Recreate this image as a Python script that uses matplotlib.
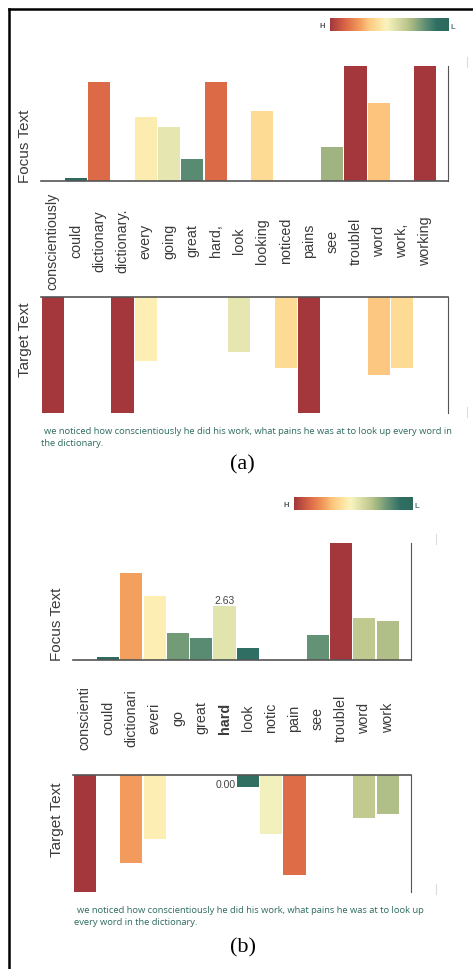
import numpy as np
import matplotlib.pyplot as plt
from matplotlib.colors import LinearSegmentedColormap
from matplotlib.lines import Line2D
from matplotlib.transforms import blended_transform_factory

W, H = 473, 970

# panel (a): raw tokens
words_a = ['conscientiously', 'could', 'dictionary', 'dictionary.', 'every', 'going',
           'great', 'hard,', 'look', 'looking', 'noticed', 'pains', 'see', 'troublel',
           'word', 'work,', 'working']
focus_a = [0, 0.023, 0.86, 0, 0.556, 0.47, 0.19, 0.86, 0, 0.61, 0, 0, 0.30, 1.0, 0.68, 0, 1.0]
target_a = [1.0, 0, 0, 1.0, 0.55, 0, 0, 0, 0.47, 0, 0.61, 1.0, 0, 0, 0.67, 0.61, 0]

# panel (b): stemmed tokens
words_b = ['conscienti', 'could', 'dictionari', 'everi', 'go', 'great', 'hard', 'look',
           'notic', 'pain', 'see', 'troublel', 'word', 'work']
focus_b = [0, 0.16, 4.25, 3.15, 1.32, 1.09, 2.63, 0.57, 0, 0, 1.20, 5.72, 2.06, 1.89]
target_b = [5.72, 0, 4.29, 3.15, 0, 0, 0, 0.60, 2.90, 4.90, 0, 0, 2.09, 1.89]

sentence_a = ["we noticed how conscientiously he did his work, what pains he was at to look up every word in",
              "the dictionary."]
sentence_b = ["we noticed how conscientiously he did his work, what pains he was at to look up",
              "every word in the dictionary."]

cmap = LinearSegmentedColormap.from_list('hl', [
    (0.00, '#2b6a5d'), (0.10, '#2f6e62'), (0.20, '#5f8f75'), (0.30, '#a0b580'),
    (0.36, '#c0c98f'), (0.47, '#e6e7b0'), (0.52, '#f7f3c2'), (0.55, '#fdeeb2'),
    (0.61, '#fddc96'), (0.68, '#fcc57e'), (0.74, '#f4a15f'), (0.86, '#de6b47'),
    (1.00, '#a3373c')])

TXT = '#3a3a3a'
SPINE = '#555555'
plt.rcParams['font.family'] = ['Liberation Sans', 'DejaVu Sans']


def box(l, t, r, b):
    return [l / W, 1 - b / H, (r - l) / W, (b - t) / H]


def fy(y):
    return 1 - y / H


def bar_axes(rect, vals, vmax, xmax, top):
    ax = fig.add_axes(rect)
    x = np.arange(len(vals))
    ax.bar(x, vals, width=0.95, color=[cmap(v / vmax) for v in vals], edgecolor='none')
    ax.set_xlim(-0.5, xmax)
    if top:
        ax.set_ylim(0, vmax)
    else:
        ax.set_ylim(vmax, 0)
    for s in ax.spines.values():
        s.set_visible(False)
    ax.spines['right'].set_visible(True)
    ax.spines['right'].set_color(SPINE)
    edge = 'bottom' if top else 'top'
    ax.spines[edge].set_visible(True)
    ax.spines[edge].set_color(SPINE)
    ax.spines[edge].set_linewidth(1.2)
    ax.set_xticks([])
    ax.set_yticks([])
    return ax


def colorbar(l, t, r, b):
    cax = fig.add_axes(box(l, t, r, b))
    cax.imshow(np.linspace(1, 0, 256)[None, :], aspect='auto', cmap=cmap, vmin=0, vmax=1)
    cax.axis('off')
    fig.text((l - 5) / W, fy((t + b) / 2 + 1), 'H', fontsize=5.5, color='#555555',
             ha='right', va='center', fontweight='bold')
    fig.text((r + 2) / W, fy((t + b) / 2 + 2), 'L', fontsize=5.5, color='#557a75',
             ha='left', va='center', fontweight='bold')


def word_labels(ax, words, y, bold=None):
    tr = blended_transform_factory(ax.transData, fig.transFigure)
    for i, w in enumerate(words):
        ax.text(i, fy(y), w, transform=tr, rotation=90, ha='center', va='center',
                fontsize=10.3, color=TXT, fontweight='bold' if w == bold else 'normal')


fig = plt.figure(figsize=(W / 100, H / 100), dpi=100)

# outer frame (left and top edges)
fig.add_artist(Line2D([9 / W, 9 / W], [0, fy(10)], color='black', lw=1.8))
fig.add_artist(Line2D([9 / W, 1], [fy(10), fy(10)], color='black', lw=1.8))

# ---- panel (a)
colorbar(330, 19, 448, 32)
ax = bar_axes(box(41, 67, 448, 182), focus_a, 1.0, 16.97, True)
word_labels(ax, words_a, 241)
bar_axes(box(41, 298, 448, 414), target_a, 1.0, 16.97, False)
fig.text(25 / W, fy(146), 'Focus Text', rotation=90, ha='center', va='center', fontsize=11, color=TXT)
fig.text(25 / W, fy(340), 'Target Text', rotation=90, ha='center', va='center', fontsize=11, color=TXT)
fig.text(44 / W, fy(432), sentence_a[0], fontsize=6.75, color='#2d6b5f', va='center', family='Open Sans')
fig.text(41 / W, fy(444), sentence_a[1], fontsize=6.75, color='#2d6b5f', va='center', family='Open Sans')
fig.text(242 / W, fy(465), '(a)', fontsize=16, ha='center', va='center', family='Liberation Serif')
for y0, y1 in [(58, 68), (408, 418)]:
    fig.add_artist(Line2D([467 / W] * 2, [fy(y0), fy(y1)], color='#dddddd', lw=0.8))

# ---- panel (b)
colorbar(294, 498, 412, 511)
ax = bar_axes(box(73, 544, 411, 661), focus_b, 5.72, 14.0, True)
ax.text(6, focus_b[6] + 0.08, '2.63', ha='center', va='bottom', fontsize=7.5, color='#444444')
word_labels(ax, words_b, 718, bold='hard')
axt = bar_axes(box(73, 776, 411, 893), target_b, 5.72, 14.0, False)
axt.text(6.5, 0.45, '0.00', ha='right', va='center', fontsize=7.5, color='#444444')
fig.text(57 / W, fy(624), 'Focus Text', rotation=90, ha='center', va='center', fontsize=11, color=TXT)
fig.text(57 / W, fy(820), 'Target Text', rotation=90, ha='center', va='center', fontsize=11, color=TXT)
fig.text(77 / W, fy(911), sentence_b[0], fontsize=6.75, color='#2d6b5f', va='center', family='Open Sans')
fig.text(74 / W, fy(923), sentence_b[1], fontsize=6.75, color='#2d6b5f', va='center', family='Open Sans')
fig.text(243 / W, fy(948), '(b)', fontsize=16, ha='center', va='center', family='Liberation Serif')
for y0, y1 in [(535, 545), (885, 895)]:
    fig.add_artist(Line2D([436 / W] * 2, [fy(y0), fy(y1)], color='#dddddd', lw=0.8))

fig.savefig('out.png', dpi=100, facecolor='white')
